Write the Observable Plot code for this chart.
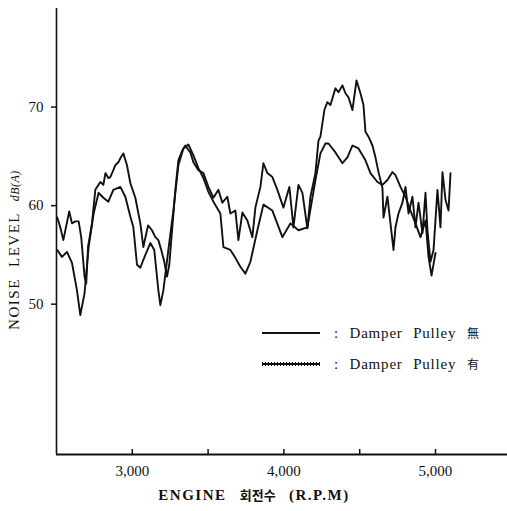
<!DOCTYPE html>
<html>
<head>
<meta charset="utf-8">
<script src="https://cdn.jsdelivr.net/npm/d3@7"></script>
<script src="https://cdn.jsdelivr.net/npm/@observablehq/plot@0.6"></script>
<style>
  html, body { margin: 0; padding: 0; background: #fff; }
  #wrap { position: relative; width: 507px; height: 511px; overflow: hidden; }
  .ov { position: absolute; font-family: "Liberation Serif", "DejaVu Serif", serif; color: #111; white-space: nowrap; }
  .serif { font-family: "Liberation Serif", "DejaVu Serif", serif; }
  .cjk { font-family: "Noto Sans CJK KR", sans-serif; }
</style>
</head>
<body>
<div id="wrap"></div>
<script>
// ---- data ----
const seriesNames = ["Damper Pulley 無", "Damper Pulley 有"];

// Damper Pulley 無 (larger swings)
const rpmA = [2505,2525,2545,2565,2584,2602,2624,2646,2663,2685,2696,2708,2734,2756,2789,2809,2823,2842,2855,2875,2888,2908,2921,2941,2965,2987,3020,3053,3073,3104,3130,3152,3172,3191,3211,3229,3244,3257,3284,3304,3330,3350,3363,3383,3403,3436,3469,3502,3535,3568,3594,3627,3647,3680,3700,3726,3759,3792,3812,3845,3865,3891,3924,3957,3997,4036,4063,4096,4122,4155,4175,4208,4228,4241,4267,4287,4307,4340,4360,4386,4406,4426,4452,4479,4505,4525,4538,4558,4584,4604,4624,4650,4657,4683,4703,4723,4736,4756,4782,4802,4822,4848,4868,4888,4914,4934,4947,4967,4987,5013,5033,5046,5066,5086,5099];
const dbA = [58.8,57.8,56.5,58.0,59.4,58.2,58.4,58.4,56.8,52.8,52.1,55.8,58.2,61.6,62.4,62.1,63.3,62.8,62.9,63.6,64.1,64.4,64.8,65.3,64.1,62.3,60.8,58.2,55.8,58.0,57.5,56.8,56.5,55.5,54.3,52.8,54.0,56.5,61.6,64.6,65.6,66.1,65.8,65.4,64.4,63.6,63.3,61.9,60.8,61.6,60.3,60.9,59.2,59.5,56.5,59.3,58.5,56.8,59.8,61.9,64.3,63.3,62.9,61.6,59.8,61.9,57.8,62.1,61.3,57.7,60.9,63.3,66.6,67.0,69.7,70.5,70.2,71.9,71.5,72.2,71.4,71.0,69.7,72.7,71.4,70.2,67.5,67.0,66.1,64.9,63.4,61.8,58.8,60.9,58.2,55.5,57.8,59.2,60.3,61.9,59.2,60.9,57.8,60.3,57.2,61.3,57.5,54.3,55.5,61.6,57.8,63.4,60.6,59.5,63.3];

// Damper Pulley 有 (smoother)
const rpmB = [2505,2536,2569,2602,2635,2657,2685,2712,2745,2778,2809,2842,2875,2921,2954,2987,3007,3031,3053,3086,3119,3145,3172,3185,3205,3238,3271,3304,3337,3370,3403,3436,3469,3502,3535,3581,3601,3647,3680,3713,3746,3779,3825,3865,3924,3990,4043,4096,4155,4208,4241,4274,4294,4340,4386,4419,4452,4492,4538,4571,4617,4650,4683,4716,4736,4769,4802,4835,4868,4901,4934,4954,4974,5000];
const dbB = [55.5,54.8,55.3,54.2,51.4,48.9,51.1,55.8,59.2,61.3,60.8,60.4,61.6,61.9,60.9,58.9,57.8,54.0,53.7,55.0,56.2,55.5,51.4,49.9,51.4,55.5,59.5,64.1,65.8,66.2,65.1,63.8,62.8,61.4,60.4,59.2,55.8,55.5,54.7,53.8,53.1,54.3,57.5,60.1,59.5,56.8,58.2,57.5,57.8,62.6,65.3,66.3,66.3,65.4,64.3,64.9,66.1,65.8,64.6,63.3,62.4,62.1,62.6,63.4,63.1,61.9,60.9,59.5,58.2,56.8,58.5,54.8,52.9,55.2];

const xTicksLabeled = [3000, 4000, 5000];
const xTicksMinor = [3500, 4500];
const yTicks = [50, 60, 70];
const xDomain = [2500, 5475];
const yDomain = [34.75, 80];

// ---- build ----
const rowsA = rpmA.map((r, i) => ({rpm: r, db: dbA[i], s: seriesNames[0]}));
const rowsB = rpmB.map((r, i) => ({rpm: r, db: dbB[i], s: seriesNames[1]}));

const chart = Plot.plot({
  width: 507,
  height: 511,
  marginLeft: 56,
  marginRight: 0,
  marginTop: 8,
  marginBottom: 57,
  style: {fontFamily: "'Liberation Serif', 'DejaVu Serif', serif", fontSize: "15px", color: "#111", background: "white"},
  x: {domain: xDomain},
  y: {domain: yDomain},
  marks: [
    Plot.ruleX([xDomain[0]], {stroke: "#111", strokeWidth: 1.6}),
    Plot.ruleY([yDomain[0]], {stroke: "#111", strokeWidth: 1.8}),
    Plot.axisY({ticks: yTicks, tickSize: 5, tickPadding: 8, tickFormat: d => String(d), label: null, stroke: "#111", strokeWidth: 1.5}),
    Plot.axisX({ticks: xTicksLabeled, tickSize: -5, tickPadding: 16, tickFormat: d3.format(","), label: null, stroke: "#111", strokeWidth: 1.5, letterSpacing: "1px"}),
    Plot.axisX({ticks: xTicksMinor, tickSize: -5, tickFormat: () => "", label: null, stroke: "#111", strokeWidth: 1.5}),
    Plot.line(rowsB, {x: "rpm", y: "db", stroke: "#111", strokeWidth: 1.9, curve: "linear"}),
    Plot.line(rowsA, {x: "rpm", y: "db", stroke: "#111", strokeWidth: 1.9, curve: "linear"})
  ]
});

const wrap = document.getElementById("wrap");
wrap.appendChild(chart);

// y-axis title
const yl = document.createElement("div");
yl.className = "ov";
yl.style.cssText = "left:14px; top:250px; transform: translate(-50%,-50%) rotate(-90deg); font-size:15px; letter-spacing:1.5px; word-spacing:6px;";
yl.innerHTML = 'NOISE LEVEL <span style="font-style:italic; font-size:12px; letter-spacing:0.5px;">dB(A)</span>';
wrap.appendChild(yl);

// x-axis title
const xl = document.createElement("div");
xl.className = "ov";
xl.style.cssText = "left:254px; top:494px; transform: translate(-50%,-50%); font-size:15px; font-weight:bold; letter-spacing:1.5px; word-spacing:8px;";
xl.innerHTML = 'ENGINE <span class="cjk" style="font-size:13px; font-weight:bold; letter-spacing:0;">회전수</span> (R.P.M)';
wrap.appendChild(xl);

// legend
function legendRow(top, name, hatched) {
  const row = document.createElement("div");
  row.className = "ov";
  row.style.cssText = `left:262px; top:${top}px; transform: translateY(-50%); display:flex; align-items:center; font-size:15px;`;
  const svgNS = "http://www.w3.org/2000/svg";
  const s = document.createElementNS(svgNS, "svg");
  s.setAttribute("width", "60"); s.setAttribute("height", "8");
  const l = document.createElementNS(svgNS, "line");
  l.setAttribute("x1", "0"); l.setAttribute("x2", "58"); l.setAttribute("y1", "4"); l.setAttribute("y2", "4");
  l.setAttribute("stroke", "#111"); l.setAttribute("stroke-width", "1.8");
  s.appendChild(l);
  if (hatched) {
    const h = document.createElementNS(svgNS, "line");
    h.setAttribute("x1", "0"); h.setAttribute("x2", "58"); h.setAttribute("y1", "4"); h.setAttribute("y2", "4");
    h.setAttribute("stroke", "#111"); h.setAttribute("stroke-width", "4"); h.setAttribute("stroke-dasharray", "1 2");
    s.appendChild(h);
  }
  row.appendChild(s);
  const t = document.createElement("span");
  t.className = "serif";
  t.style.cssText = "margin-left:12px; letter-spacing:0.8px; word-spacing:6px;";
  const parts = name.split(" ");
  const last = parts.pop();
  t.innerHTML = ": " + parts.join(" ") + ' <span class="cjk" style="font-size:12px;">' + last + '</span>';
  row.appendChild(t);
  wrap.appendChild(row);
}
legendRow(333, seriesNames[0], false);
legendRow(364, seriesNames[1], true);
</script>
</body>
</html>
